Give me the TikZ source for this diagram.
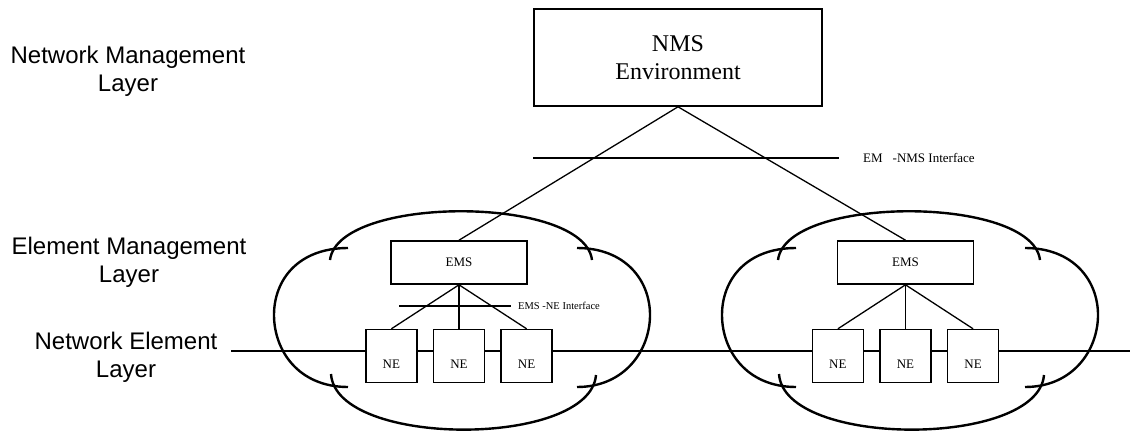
\documentclass[tikz,border=0pt]{standalone}
\usepackage{fontspec}
\setmainfont{Liberation Serif}
\newfontfamily\layerfont{Liberation Sans}
\usetikzlibrary{positioning}
\tikzset{nmsbox/.style={
    % The shape:
    rectangle,
    % The size:
    minimum width=288pt,
    minimum height=97pt,
    % The border:
    line width=1.6pt,
    draw=black,
    % Font
    font=\fontsize{24}{28}\selectfont,
    align=center,
    },
    emsbox/.style={
    rectangle,
    minimum width=136pt,
    minimum height=43pt,
    line width=1.6pt,
    draw=black,
    font=\fontsize{13}{15}\selectfont,
    },
    nebox/.style={
    rectangle,
    minimum width=51pt,
    inner sep=0pt,
    % text sits below the bus line
    text height=39pt,
    text depth=14pt,
    line width=1.6pt,
    draw=black,
    font=\fontsize{13}{15}\selectfont,
    },
    layerlabel/.style={
    inner sep=0pt,
    align=center,
    font=\layerfont\fontsize{24}{28}\selectfont,
    },
    ifacelabel/.style={
    inner sep=0pt,
    font=\fontsize{13}{15}\selectfont,
    },
    link/.style={line width=1.3pt},
    bus/.style={line width=1.3pt},
    cloudline/.style={line width=2.4pt},
}

\begin{document}
\begin{tikzpicture}[x=1pt,y=-1pt,node distance=44pt and 15pt]
    \useasboundingbox (0,0) rectangle (1130,431);

    % clouds
    \foreach \cx in {462,910}{
      \begin{scope}[shift={(\cx,0)}]
        \draw[cloudline] (-132,260) .. controls (-124,195) and (122,195) .. (130,260);
        \draw[cloudline] (-114,248) .. controls (-164,248) and (-188,280) .. (-188,315)
                                    .. controls (-188,350) and (-164,387) .. (-114,387);
        \draw[cloudline] (-131,374) .. controls (-126,448) and (128,448) .. (134,375);
        \draw[cloudline] (115,248) .. controls (163,248) and (188,280) .. (188,315)
                                   .. controls (188,350) and (163,387) .. (115,387);
      \end{scope}
    }

    % layers
    \node (nml) [layerlabel] at (128,71.75)  {Network Management\\Layer};
    \node (eml) [layerlabel] at (129,262.75) {Element Management\\Layer};
    \node (nel) [layerlabel] at (126,357.75) {Network Element\\Layer};

    \node (nms)  [nmsbox] at (678,57.5)    {NMS\\Environment};
    \node (emsL) [emsbox] at (459,262.5)   {EMS};
    \node (emsR) [emsbox] at (905.5,262.5) {EMS};

    \node (neL2) [nebox,below=of emsL] {NE};
    \node (neL1) [nebox,left=of neL2]  {NE};
    \node (neL3) [nebox,right=of neL2] {NE};
    \node (neR2) [nebox,below=of emsR] {NE};
    \node (neR1) [nebox,left=of neR2]  {NE};
    \node (neR3) [nebox,right=of neR2] {NE};

    \draw[link] (nms.south) -- (emsL.north);
    \draw[link] (nms.south) -- (emsR.north);
    \foreach \s in {L,R}{
      \foreach \n in {1,2,3}
        \draw[link] (ems\s.south) -- (ne\s\n.north);
    }

    % interfaces
    \coordinate (emnmsW) at (533,158);
    \coordinate (emnmsE) at (839,158);
    \draw[link] (emnmsW) -- (emnmsE);
    \node (emnms) [ifacelabel,right=24pt of emnmsE] {EM\hspace{10pt}-NMS Interface};

    \coordinate (emsneW) at (399,306);
    \coordinate (emsneE) at (511,306);
    \draw[link] (emsneW) -- (emsneE);
    \node (emsne) [ifacelabel,font=\fontsize{10.5}{12}\selectfont,right=7pt of emsneE] {EMS -NE Interface};

    % bus
    \coordinate (busW) at (231,351);
    \coordinate (busE) at (1130,351);
    \coordinate (cutA) at (284,351);
    \coordinate (cutB) at (642,351);
    \coordinate (cutC) at (729,351);
    \coordinate (cutD) at (1088,351);
    \draw[bus] (busW) -- (busW -| neL1.west);
    \draw[bus] (neL1.east |- busW) -- (neL2.west |- busW);
    \draw[bus] (neL2.east |- busW) -- (neL3.west |- busW);
    \draw[bus] (neL3.east |- busW) -- (neR1.west |- busW);
    \draw[bus] (neR1.east |- busW) -- (neR2.west |- busW);
    \draw[bus] (neR2.east |- busW) -- (neR3.west |- busW);
    \draw[bus] (neR3.east |- busW) -- (busE);
    \draw[bus,line width=2pt] (busW) -- (cutA);
    \draw[bus,line width=2pt] (cutB) -- (cutC);
    \draw[bus,line width=2pt] (cutD) -- (busE);
\end{tikzpicture}
\end{document}
